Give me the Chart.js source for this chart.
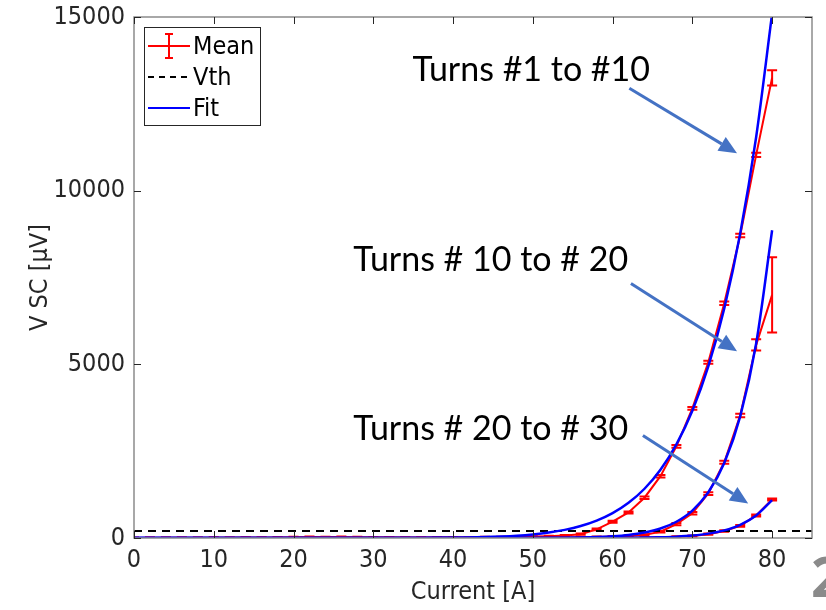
<!DOCTYPE html>
<html>
<head>
<meta charset="utf-8">
<script src="https://cdn.jsdelivr.net/npm/chart.js@4.4.1/dist/chart.umd.min.js"></script>
<style>
  html, body { margin: 0; padding: 0; background: #fff; overflow: hidden; }
  #wrap { position: relative; width: 826px; height: 610px; overflow: hidden; }
  #pageNum { position: absolute; left: 811px; top: 537px; font: bold 56px 'Open Sans', sans-serif; color: #8a8a8a; }
</style>
</head>
<body>
<div id="wrap">
  <canvas id="vscChart" width="826" height="610"></canvas>
  <div id="pageNum">2</div>
</div>
<script>
// measurement currents [A]
const currents = [0, 2, 4, 6, 8, 10, 12, 14, 16, 18, 20, 22, 24, 26, 28, 30, 32, 34, 36, 38,
    40, 42, 44, 46, 48, 50, 52, 54, 56, 58, 60, 62, 64, 66, 68, 70, 72, 74, 76, 78, 80]

// Turns #1 to #10
const mean1 = [0, 5, 5, 8, 5, 10, 8, 12, 10, 15, 25, 30, 28, 30, 25, 20, 18, 15, 15, 18,
    20, 22, 25, 28, 32, 40, 50, 70, 110, 250, 470, 735, 1160, 1780, 2640, 3730, 5060, 6760, 8710, 11030, 13250]
const err1 = [8, 8, 8, 8, 8, 8, 8, 8, 8, 8, 10, 10, 10, 10, 10, 10, 10, 10, 10, 10,
    10, 10, 10, 10, 12, 12, 15, 15, 20, 25, 30, 30, 35, 35, 40, 40, 45, 50, 50, 60, 220]
const fit1 = [0, 0, 0, 0, 0, 0, 0, 0, 0, 0, 0, 0, 0, 0, 0, 0, 1, 2, 3, 6,
    10, 16, 27, 43, 67, 104, 157, 234, 344, 500, 716, 1013, 1418, 1965, 2697, 3666, 4942, 6608, 8770, 11545, 15100]

// Turns #10 to #20
const mean2 = [0, 3, 3, 5, 3, 5, 5, 6, 5, 6, 8, 8, 6, 6, 5, 5, 5, 5, 5, 5,
    5, 5, 5, 5, 6, 8, 10, 15, 20, 30, 45, 60, 90, 180, 400, 710, 1280, 2180, 3530, 5560, 7000]
const err2 = [5, 5, 5, 5, 5, 5, 5, 5, 5, 5, 5, 5, 5, 5, 5, 5, 5, 5, 5, 5,
    5, 5, 5, 5, 5, 8, 8, 10, 10, 12, 15, 15, 20, 25, 30, 35, 40, 45, 50, 160, 1080]
const fit2 = [0, 0, 0, 0, 0, 0, 0, 0, 0, 0, 0, 0, 0, 0, 0, 0, 0, 0, 0, 0,
    0, 0, 0, 1, 1, 2, 4, 7, 14, 26, 49, 88, 156, 272, 468, 790, 1316, 2161, 3502, 5600, 8860]

// Turns #20 to #30
const mean3 = [0, 2, 2, 3, 2, 3, 3, 3, 3, 3, 3, 3, 3, 3, 3, 3, 3, 3, 3, 3,
    3, 3, 3, 3, 3, 3, 3, 3, 3, 4, 5, 6, 10, 20, 35, 60, 110, 200, 350, 650, 1110]
const err3 = [4, 4, 4, 4, 4, 4, 4, 4, 4, 4, 4, 4, 4, 4, 4, 4, 4, 4, 4, 4,
    4, 4, 4, 4, 4, 4, 4, 4, 4, 5, 5, 6, 8, 10, 12, 15, 18, 20, 25, 30, 30]
const fit3 = [0, 0, 0, 0, 0, 0, 0, 0, 0, 0, 0, 0, 0, 0, 0, 0, 0, 0, 0, 0,
    0, 0, 0, 0, 0, 0, 0, 0, 0, 1, 3, 6, 11, 21, 39, 71, 126, 220, 381, 650, 1090]

// threshold voltage
const vthCurrents = [0, 85]
const vthLevel = 200

const xTickValues = [0, 10, 20, 30, 40, 50, 60, 70, 80]
const yTickValues = [0, 5000, 10000, 15000]

const labelTexts = ['Turns #1 to #10', 'Turns # 10 to # 20', 'Turns # 20 to # 30']

const AXIS_FONT = "'Liberation Sans Narrow', 'DejaVu Sans Condensed', 'Liberation Sans', sans-serif"
const NOTE_FONT = "Lato, 'Open Sans', sans-serif"

const toPoints = (ys) => currents.map((c, i) => ({ x: c, y: ys[i] }))

// annotation placement in data units
const notes = [
    { text: labelTexts[0], x: 34.9, y: 13150, from: [62.1, 12950], to: [75.6, 11080] },
    { text: labelTexts[1], x: 27.5, y: 7680, from: [62.3, 7330], to: [75.6, 5375] },
    { text: labelTexts[2], x: 27.5, y: 2810, from: [63.8, 2950], to: [77.0, 995] }
]

const errorBars = {
    id: 'errorBars',
    afterDatasetDraw(chart, args) {
        const ds = chart.data.datasets[args.index]
        if (!ds.errors) return
        const { ctx, chartArea, scales: { x, y } } = chart
        ctx.save()
        ctx.beginPath()
        ctx.rect(chartArea.left, chartArea.top, chartArea.width, chartArea.height)
        ctx.clip()
        ctx.strokeStyle = ds.borderColor
        ctx.lineWidth = 2
        ds.data.forEach((p, i) => {
            const px = x.getPixelForValue(p.x)
            const top = y.getPixelForValue(p.y + ds.errors[i])
            const bot = y.getPixelForValue(p.y - ds.errors[i])
            ctx.beginPath()
            ctx.moveTo(px, top)
            ctx.lineTo(px, bot)
            ctx.moveTo(px - 5, top)
            ctx.lineTo(px + 5, top)
            ctx.moveTo(px - 5, bot)
            ctx.lineTo(px + 5, bot)
            ctx.stroke()
        })
        ctx.restore()
    }
}

const axesBox = {
    id: 'axesBox',
    afterDraw(chart) {
        const { ctx, chartArea: a, scales: { x, y } } = chart
        ctx.save()
        ctx.strokeStyle = '#8c8c8c'
        ctx.lineWidth = 1.5
        ctx.strokeRect(a.left, a.top, a.right - a.left, a.bottom - a.top)
        ctx.strokeStyle = '#262626'
        ctx.lineWidth = 1
        ctx.beginPath()
        xTickValues.forEach((v) => {
            const px = Math.round(x.getPixelForValue(v)) + 0.5
            ctx.moveTo(px, a.bottom)
            ctx.lineTo(px, a.bottom - 7)
            ctx.moveTo(px, a.top)
            ctx.lineTo(px, a.top + 7)
        })
        yTickValues.forEach((v) => {
            const py = Math.round(y.getPixelForValue(v)) + 0.5
            ctx.moveTo(a.left, py)
            ctx.lineTo(a.left + 7, py)
            ctx.moveTo(a.right, py)
            ctx.lineTo(a.right - 7, py)
        })
        ctx.stroke()
        ctx.restore()
    }
}

const boxLegend = {
    id: 'boxLegend',
    afterDraw(chart) {
        const { ctx, chartArea: a } = chart
        const left = a.left + 10
        const top = a.top + 10
        ctx.save()
        ctx.fillStyle = '#fff'
        ctx.fillRect(left, top, 116, 98)
        ctx.strokeStyle = '#262626'
        ctx.lineWidth = 1
        ctx.strokeRect(left + 0.5, top + 0.5, 116, 98)
        const rows = [
            { label: 'Mean', color: '#ff0000', dash: [], err: true },
            { label: 'Vth', color: '#000000', dash: [6, 5], err: false },
            { label: 'Fit', color: '#0000ff', dash: [], err: false }
        ]
        ctx.font = `25px ${AXIS_FONT}`
        ctx.textBaseline = 'middle'
        rows.forEach((r, i) => {
            const cy = top + 19 + i * 31
            ctx.strokeStyle = r.color
            ctx.lineWidth = 2
            ctx.setLineDash(r.dash)
            ctx.beginPath()
            ctx.moveTo(left + 4, cy)
            ctx.lineTo(left + 46, cy)
            ctx.stroke()
            ctx.setLineDash([])
            if (r.err) {
                const cx = left + 25
                ctx.beginPath()
                ctx.moveTo(cx, cy - 12)
                ctx.lineTo(cx, cy + 12)
                ctx.moveTo(cx - 4, cy - 12)
                ctx.lineTo(cx + 4, cy - 12)
                ctx.moveTo(cx - 4, cy + 12)
                ctx.lineTo(cx + 4, cy + 12)
                ctx.stroke()
            }
            ctx.fillStyle = '#000'
            ctx.fillText(r.label, left + 49, cy + 1)
        })
        ctx.restore()
    }
}

const arrowNotes = {
    id: 'arrowNotes',
    afterDraw(chart) {
        const { ctx, scales: { x, y } } = chart
        ctx.save()
        ctx.font = `34px ${NOTE_FONT}`
        ctx.fillStyle = '#000'
        ctx.textBaseline = 'alphabetic'
        notes.forEach((n) => {
            ctx.fillStyle = '#000'
            ctx.fillText(n.text, x.getPixelForValue(n.x), y.getPixelForValue(n.y))
            const x0 = x.getPixelForValue(n.from[0])
            const y0 = y.getPixelForValue(n.from[1])
            const x1 = x.getPixelForValue(n.to[0])
            const y1 = y.getPixelForValue(n.to[1])
            const ang = Math.atan2(y1 - y0, x1 - x0)
            const head = 18
            const half = 8
            const bx = x1 - head * Math.cos(ang)
            const by = y1 - head * Math.sin(ang)
            ctx.strokeStyle = '#4472c4'
            ctx.fillStyle = '#4472c4'
            ctx.lineWidth = 3
            ctx.beginPath()
            ctx.moveTo(x0, y0)
            ctx.lineTo(bx, by)
            ctx.stroke()
            ctx.beginPath()
            ctx.moveTo(x1, y1)
            ctx.lineTo(bx + half * Math.sin(ang), by - half * Math.cos(ang))
            ctx.lineTo(bx - half * Math.sin(ang), by + half * Math.cos(ang))
            ctx.closePath()
            ctx.fill()
        })
        ctx.restore()
    }
}

const meanStyle = { borderColor: '#ff0000', borderWidth: 2, pointRadius: 0, tension: 0, order: 3 }
const fitStyle = { borderColor: '#0000ff', borderWidth: 2.5, pointRadius: 0, cubicInterpolationMode: 'monotone', order: 1 }

const canvas = document.getElementById('vscChart')

const vscChart = new Chart(canvas, {
    type: 'line',
    data: {
        datasets: [
            { label: 'Mean', data: toPoints(mean1), errors: err1, ...meanStyle },
            { label: 'Mean', data: toPoints(mean2), errors: err2, ...meanStyle },
            { label: 'Mean', data: toPoints(mean3), errors: err3, ...meanStyle },
            {
                label: 'Vth',
                data: vthCurrents.map((c) => ({ x: c, y: vthLevel })),
                borderColor: '#000000',
                borderWidth: 2,
                borderDash: [8, 6],
                pointRadius: 0,
                order: 2
            },
            { label: 'Fit', data: toPoints(fit1), ...fitStyle },
            { label: 'Fit', data: toPoints(fit2), ...fitStyle },
            { label: 'Fit', data: toPoints(fit3), ...fitStyle }
        ]
    },
    options: {
        responsive: false,
        animation: false,
        layout: { padding: { top: 17, right: 14, left: 0, bottom: 0 } },
        plugins: {
            legend: { display: false },
            tooltip: { enabled: false }
        },
        scales: {
            x: {
                type: 'linear',
                min: 0,
                max: 85,
                grid: { display: false, drawTicks: false },
                border: { display: false },
                afterBuildTicks: (s) => { s.ticks = xTickValues.map((v) => ({ value: v })) },
                afterFit: (s) => {
                    s.height = 72
                    s.paddingLeft = 0
                    s.paddingRight = 0
                },
                ticks: {
                    font: { family: AXIS_FONT, size: 25 },
                    color: '#262626',
                    padding: 7,
                    maxRotation: 0,
                    autoSkip: false
                },
                title: {
                    display: true,
                    text: 'Current [A]',
                    font: { family: AXIS_FONT, size: 25 },
                    color: '#262626',
                    padding: { top: 0, bottom: 3 }
                }
            },
            y: {
                type: 'linear',
                min: 0,
                max: 15000,
                grid: { display: false, drawTicks: false },
                border: { display: false },
                afterBuildTicks: (s) => { s.ticks = yTickValues.map((v) => ({ value: v })) },
                afterFit: (s) => {
                    s.width = 134
                    s.paddingTop = 0
                    s.paddingBottom = 0
                },
                ticks: {
                    font: { family: AXIS_FONT, size: 25 },
                    color: '#262626',
                    padding: 9,
                    callback: (v) => String(v)
                },
                title: {
                    display: true,
                    text: 'V SC [μV]',
                    font: { family: AXIS_FONT, size: 25 },
                    color: '#262626',
                    padding: { top: 25, bottom: 0 }
                }
            }
        }
    },
    plugins: [errorBars, axesBox, boxLegend, arrowNotes]
})
</script>
</body>
</html>
